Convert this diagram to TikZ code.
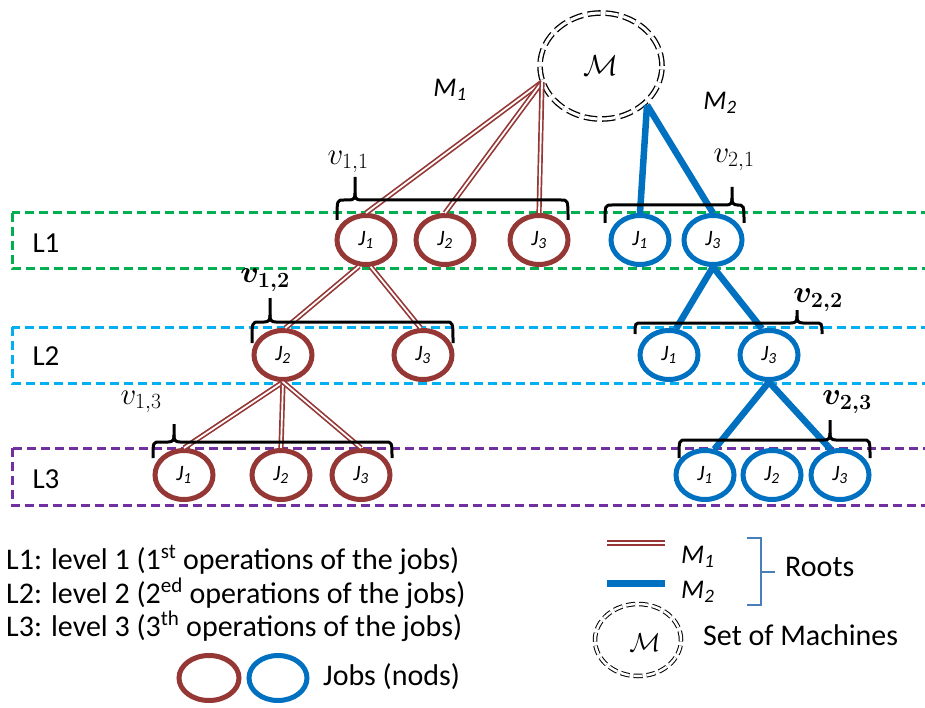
\RequirePackage{fix-cm}
\documentclass[tikz,border=0pt]{standalone}
\usepackage{amsmath,bm}
\usepackage{fontspec}
\setmainfont{Carlito}
\usetikzlibrary{shapes.geometric}
\definecolor{brn}{HTML}{953735}
\definecolor{blu}{HTML}{0070C0}
\definecolor{grn}{HTML}{00B050}
\definecolor{cyn}{HTML}{00B0F0}
\definecolor{pur}{HTML}{7030A0}
\definecolor{rootc}{HTML}{4A7EBB}
\tikzset{
  jobb/.style={ellipse, draw=brn, line width=5pt, minimum width=58pt, minimum height=49pt, inner sep=0pt, font=\fontsize{22}{24}\selectfont\itshape},
  jobu/.style={jobb, draw=blu},
  mone/.style={draw=brn, line width=1.7pt, double=white, double distance=1.8pt},
  mtwo/.style={draw=blu, line width=6.5pt},
  lvl/.style={line width=3pt, dash pattern=on 9pt off 5pt},
  brc/.style={draw=black, line width=3pt},
  mset/.style={ellipse, draw=black, line width=1.3pt, double=white, double distance=3pt, dash pattern=on 13pt off 5pt, inner sep=0pt},
  txt/.style={font=\fontsize{30}{33}\selectfont, inner sep=0pt},
  vlab/.style={font=\fontsize{31}{33}\selectfont, inner sep=0pt},
  mlab/.style={font=\fontsize{27}{29}\selectfont\itshape, inner sep=0pt}
}
\newcommand{\cbrace}[6]{%
  \draw[brc] (#1,#4) .. controls (#1,#3) .. (#1+7,#3) -- (#5-6,#3) .. controls (#5-1,#3) and (#5,#3-2) .. (#5,#3-7) -- (#5,#6);
  \draw[brc] (#5,#3-7) .. controls (#5,#3-2) and (#5+1,#3) .. (#5+6,#3) -- (#2-7,#3) .. controls (#2,#3) .. (#2,#4);}
\begin{document}
\begin{tikzpicture}[x=1pt,y=-1pt]
\useasboundingbox (0,0) rectangle (925,708);
\clip (0,0) rectangle (925,708);
% level boxes
\draw[lvl, draw=grn] (12,213) rectangle (940,269);
\draw[lvl, draw=cyn] (12,327) rectangle (940,383);
\draw[lvl, draw=pur] (12,448) rectangle (940,505);
\node[txt, font=\fontsize{29}{31}\selectfont] (l1) at (46,243) {L1};
\node[txt, font=\fontsize{29}{31}\selectfont] (l2) at (46,356) {L2};
\node[txt, font=\fontsize{29}{31}\selectfont] (l3) at (46,479) {L3};
% machine set
\node[mset, minimum width=122pt, minimum height=106pt] (M) at (601,66) {\fontsize{29}{31}\selectfont$\mathcal{M}$};
\coordinate (m1o) at (542,82);
\coordinate (m2o) at (647,105);
\node[mlab] (lm1) at (450,90) {M\textsubscript{1}};
\node[mlab] (lm2) at (720,103) {M\textsubscript{2}};
% jobs level 1
\node[jobb] (a11) at (366,240) {J\textsubscript{1}};
\node[jobb] (a12) at (445,240) {J\textsubscript{2}};
\node[jobb] (a13) at (539,240) {J\textsubscript{3}};
\node[jobu] (b11) at (640,240) {J\textsubscript{1}};
\node[jobu] (b13) at (713,240) {J\textsubscript{3}};
% level 2
\node[jobb] (a22) at (283,355) {J\textsubscript{2}};
\node[jobb] (a23) at (423,355) {J\textsubscript{3}};
\node[jobu] (b21) at (669,355) {J\textsubscript{1}};
\node[jobu] (b23) at (769,355) {J\textsubscript{3}};
% level 3
\node[jobb] (a31) at (184,475) {J\textsubscript{1}};
\node[jobb] (a32) at (281,475) {J\textsubscript{2}};
\node[jobb] (a33) at (361,475) {J\textsubscript{3}};
\node[jobu] (b31) at (705,475) {J\textsubscript{1}};
\node[jobu] (b32) at (772,475) {J\textsubscript{2}};
\node[jobu] (b33) at (840,475) {J\textsubscript{3}};
% edges M1
\draw[mone] (m1o) -- (a11.north);
\draw[mone] (m1o) -- (a12.north);
\draw[mone] (m1o) -- (a13.north);
\draw[mone] (a11.-105) -- (a22.85);
\draw[mone] (a11.-80) -- (a23.95);
\draw[mone] (a22.south) -- (a31.north);
\draw[mone] (a22.south) -- (a32.north);
\draw[mone] (a22.south) -- (a33.north);
% edges M2
\draw[mtwo] (m2o) -- (b11.north);
\draw[mtwo] (m2o) -- (b13.north);
\draw[mtwo] (b13.south) -- (b21.75);
\draw[mtwo] (b13.south) -- (b23.105);
\draw[mtwo] (b23.south) -- (b31.70);
\draw[mtwo] (b23.south) -- (b33.110);
% braces
\cbrace{337}{568}{200}{220}{355}{177}
\cbrace{605}{744}{205}{223}{732}{187}
\cbrace{252}{453}{322}{343}{270}{298}
\cbrace{635}{822}{323}{334}{797}{310}
\cbrace{153}{392}{442}{458}{174}{424}
\cbrace{679}{870}{440}{458}{830}{420}
% brace labels
\node[vlab] (v11) at (348,162) {$v_{1,1}$};
\node[vlab] (v21) at (734,160) {$v_{2,1}$};
\node[vlab] (v12) at (265,280) {$\bm{v}_{\bm{1,2}}$};
\node[vlab] (v22) at (818,300) {$\bm{v}_{\bm{2,2}}$};
\node[vlab] (v13) at (141,402) {$v_{1,3}$};
\node[vlab] (v23) at (847,402) {$\bm{v}_{\bm{2,3}}$};
% legend text
\node[txt, anchor=west] (g1) at (6,560) {L1: level 1 (1\textsuperscript{st} operations of the jobs)};
\node[txt, anchor=west] (g2) at (6,593) {L2: level 2 (2\textsuperscript{ed} operations of the jobs)};
\node[txt, anchor=west] (g3) at (6,626) {L3: level 3 (3\textsuperscript{th} operations of the jobs)};
% legend jobs
\node[jobb, minimum width=60pt, minimum height=45pt] (gj1) at (209,678) {};
\node[jobu, minimum width=58pt, minimum height=45pt] (gj2) at (278,678) {};
\node[txt, anchor=west] (gjt) at (323,677) {Jobs (nods)};
% legend roots
\coordinate (r1a) at (607,543);
\coordinate (r1b) at (665,543);
\coordinate (r2a) at (607,583);
\coordinate (r2b) at (665,583);
\draw[mone] (r1a) -- (r1b);
\draw[draw=blu, line width=7pt] (r2a) -- (r2b);
\node[mlab, anchor=west] (gm1) at (681,557) {M\textsubscript{1}};
\node[mlab, anchor=west] (gm2) at (681,592) {M\textsubscript{2}};
\coordinate (rb1) at (747,538);
\coordinate (rb2) at (747,605);
\coordinate (rbt) at (775,572);
\draw[rootc, line width=1.5pt] (rb1) -- (761,538) -- (761,605) -- (rb2);
\draw[rootc, line width=1.5pt] (761,572) -- (rbt);
\node[txt, anchor=west] (roots) at (785,567) {Roots};
% legend machine set
\node[mset, line width=1pt, double distance=2.5pt, dash pattern=on 9pt off 4pt, minimum width=86pt, minimum height=72pt] (gM) at (638,640) {};
\node[inner sep=0pt] (gMt) at (645,643) {\fontsize{26}{28}\selectfont$\mathcal{M}$};
\node[txt, anchor=west] (setm) at (703,635) {Set of Machines};
\end{tikzpicture}
\end{document}
